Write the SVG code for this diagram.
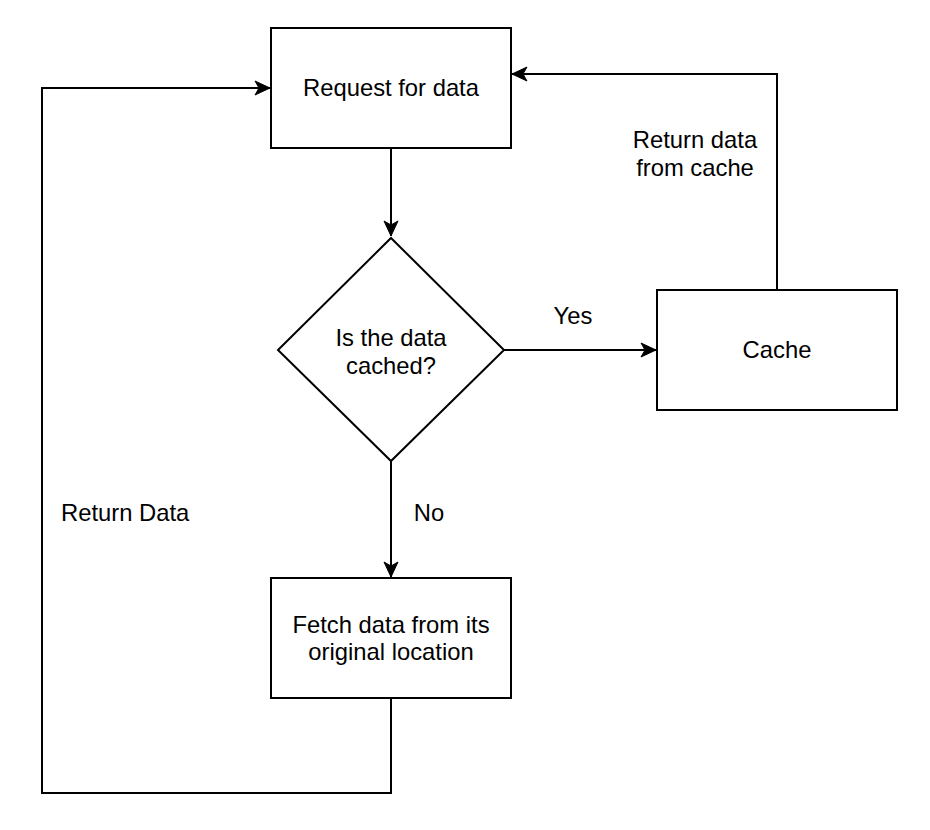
<svg xmlns="http://www.w3.org/2000/svg" width="930" height="830" viewBox="0 0 930 830">
  <style>
    .shape { fill: #ffffff; stroke: #000000; stroke-width: 2; }
    .edge { fill: none; stroke: #000000; stroke-width: 2; }
    text { font-family: "Liberation Sans", Arial, Helvetica, sans-serif; font-size: 23.8px; fill: #000000; }
    .c { text-anchor: middle; }
  </style>
  <defs>
    <marker id="arrow" markerUnits="userSpaceOnUse" markerWidth="18" markerHeight="16" viewBox="-1 -8 18 16" refX="15" refY="0" orient="auto">
      <path d="M0,-7 L15,0 L0,7 L4,0 Z" fill="#000000" stroke="#000000" stroke-width="1"/>
    </marker>
  </defs>
  <rect width="930" height="830" fill="#ffffff"/>
  <g id="connectors">
    <path class="edge" d="M391,148 L391,236" marker-end="url(#arrow)"/>
    <path class="edge" d="M504,350 L656,350" marker-end="url(#arrow)"/>
    <path class="edge" d="M391,461 L391,577" marker-end="url(#arrow)"/>
    <path class="edge" d="M777,290 L777,74 L512,74" marker-end="url(#arrow)"/>
    <path class="edge" d="M391,698 L391,793 L42,793 L42,88 L270,88" marker-end="url(#arrow)"/>
    <text x="573" y="324" class="c">Yes</text>
    <text x="429" y="521" class="c">No</text>
    <text x="61" y="521">Return Data</text>
    <text x="695" y="148" class="c">Return data</text>
    <text x="695" y="176" class="c">from cache</text>
  </g>
  <g id="request">
    <rect class="shape" x="271" y="28" width="240" height="120"/>
    <text x="391" y="96" class="c">Request for data</text>
  </g>
  <g id="decision">
    <polygon class="shape" points="391,238 504,350 391,461 278,350"/>
    <text x="391" y="346" class="c">Is the data</text>
    <text x="391" y="374" class="c">cached?</text>
  </g>
  <g id="cache">
    <rect class="shape" x="657" y="290" width="240" height="120"/>
    <text x="777" y="358" class="c">Cache</text>
  </g>
  <g id="fetch">
    <rect class="shape" x="271" y="578" width="240" height="120"/>
    <text x="391" y="633" class="c">Fetch data from its</text>
    <text x="391" y="660" class="c">original location</text>
  </g>
</svg>
